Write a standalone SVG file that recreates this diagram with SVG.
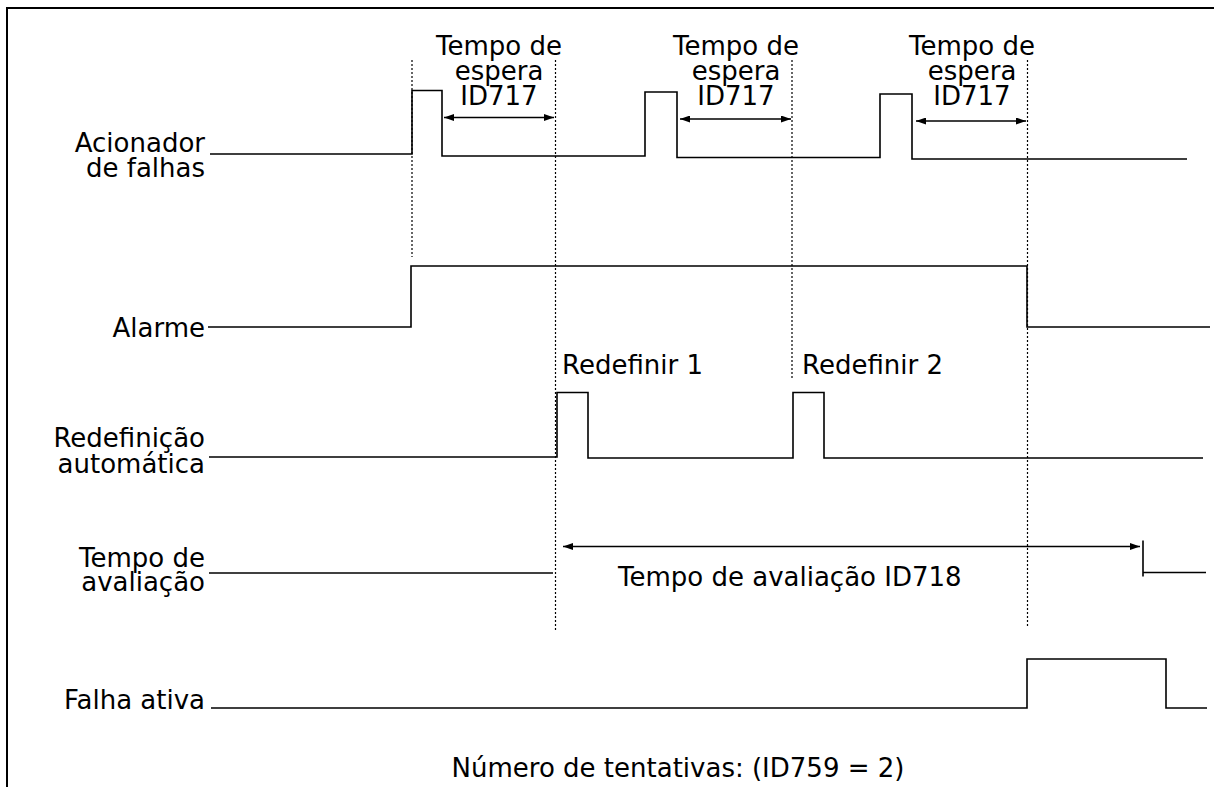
<svg xmlns="http://www.w3.org/2000/svg" width="1214" height="787" viewBox="0 0 1214 787">
<style>
text{font-family:"DejaVu Sans","Verdana",sans-serif;font-size:26px;fill:#000}
.lbl{text-anchor:end}
.mid{text-anchor:middle}
.sig{fill:none;stroke:#000;stroke-width:1.6}
.dot{fill:none;stroke:#000;stroke-width:1.2;stroke-dasharray:2 2}
.arr{fill:none;stroke:#000;stroke-width:1.5;marker-start:url(#ah);marker-end:url(#ah)}
.frame{fill:none;stroke:#000;stroke-width:2}
</style>
<defs>
<marker id="ah" viewBox="0 0 10 7" refX="10" refY="3.5" markerWidth="10" markerHeight="7" markerUnits="userSpaceOnUse" orient="auto-start-reverse">
<path d="M0,0 L10,3.5 L0,7 z" fill="#000"/>
</marker>
</defs>
<rect width="1214" height="787" fill="#fff"/>
<path class="frame" d="M7,787 V8 H1214"/>

<g id="acionador">
<text class="lbl" x="205" y="152">Acionador</text>
<text class="lbl" x="205" y="177">de falhas</text>
<path class="sig" d="M210,154 H412 V90.5 H442 V156 H645 V92 H677 V157.5 H880 V94 H912 V159 H1187"/>
</g>

<g id="espera1">
<text class="mid" x="499" y="55">Tempo de</text>
<text class="mid" x="499" y="80">espera</text>
<text class="mid" x="499" y="105">ID717</text>
</g>
<g id="espera2">
<text class="mid" x="736" y="55">Tempo de</text>
<text class="mid" x="736" y="80">espera</text>
<text class="mid" x="736" y="105">ID717</text>
</g>
<g id="espera3">
<text class="mid" x="972" y="55">Tempo de</text>
<text class="mid" x="972" y="80">espera</text>
<text class="mid" x="972" y="105">ID717</text>
</g>

<g id="alarme">
<text class="lbl" x="205" y="337">Alarme</text>
<path class="sig" d="M208,327 H411 V266 H1027 V327 H1210"/>
</g>

<g id="redefinicao">
<text x="562" y="374">Redefinir 1</text>
<text x="802" y="374">Redefinir 2</text>
<text class="lbl" x="205" y="447">Redefinição</text>
<text class="lbl" x="205" y="473">automática</text>
<path class="sig" d="M209,457 H557 V392.5 H588 V458 H793 V392.5 H824 V458 H1203"/>
</g>

<g id="avaliacao">
<text class="lbl" x="205" y="567">Tempo de</text>
<text class="lbl" x="205" y="591">avaliação</text>
<path class="sig" d="M209,573 H553"/>
<path class="sig" d="M1143,540.5 V576.5 M1143,572.5 H1206"/>
<text x="618" y="586">Tempo de avaliação ID718</text>
</g>

<g id="falha">
<text class="lbl" x="205" y="709">Falha ativa</text>
<path class="sig" d="M211,708 H1027 V659 H1166 V708 H1207"/>
</g>

<g id="rodape">
<text class="mid" x="678" y="777">Número de tentativas: (ID759 = 2)</text>
</g>

<g id="connectors">
<path class="dot" d="M412,60 V257"/>
<path class="dot" d="M555.5,60 V632"/>
<path class="dot" d="M792,60 V380"/>
<path class="dot" d="M1027.5,60 V626"/>
<path class="arr" d="M444,117.5 H554"/>
<path class="arr" d="M680,119 H791"/>
<path class="arr" d="M916,121 H1026"/>
<path class="arr" d="M563,546.5 H1140"/>
</g>
</svg>
